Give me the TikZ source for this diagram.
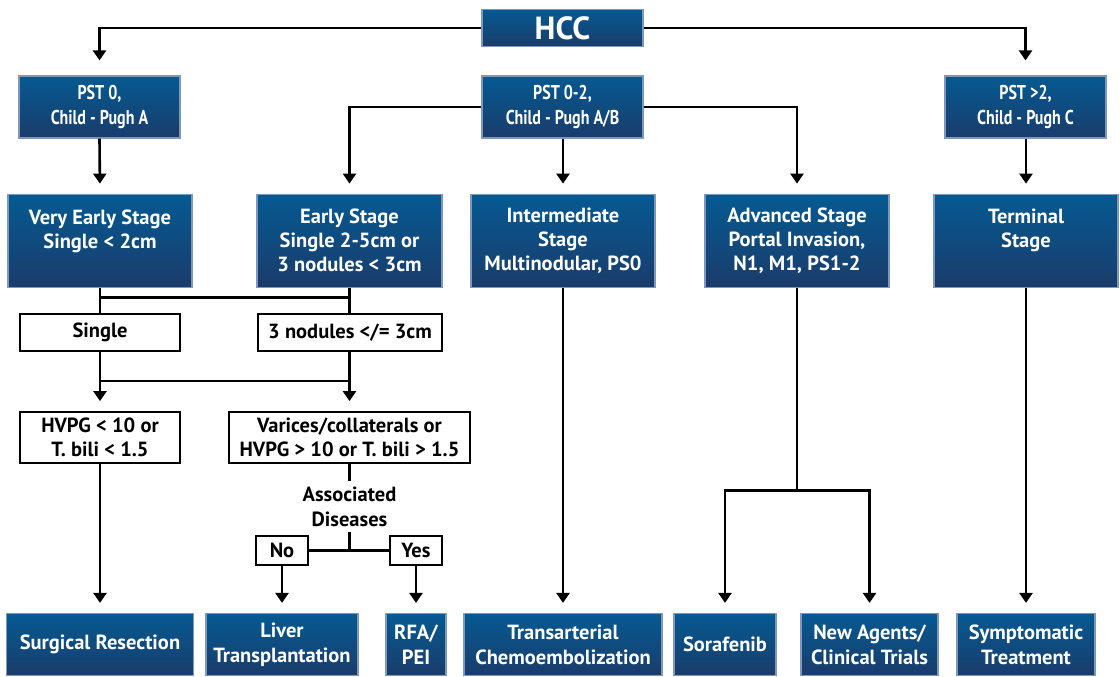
\documentclass[tikz,border=0pt]{standalone}
\usepackage{fontspec}
\setmainfont{PT Sans}
\newfontfamily\condfont[FakeStretch=0.80]{PT Sans}
\usetikzlibrary{arrows.meta}
\definecolor{btop}{HTML}{055A92}
\definecolor{bbot}{HTML}{1A3C6B}
\definecolor{bedge}{HTML}{7D98BC}
\tikzset{
  bluebox/.style={draw=bedge, line width=1.2pt, top color=btop, bottom color=bbot,
    text=white, font=\bfseries\fontsize{20.5}{24}\selectfont, align=center, inner sep=0pt},
  lowbox/.style={bluebox, minimum height=62pt, font=\bfseries\fontsize{20.5}{25}\selectfont},
  pstbox/.style={bluebox, minimum width=161pt, minimum height=62pt, font=\condfont\bfseries\fontsize{20}{25}\selectfont},
  whitebox/.style={draw=black, line width=2.2pt, fill=white, text=black,
    font=\bfseries\fontsize{20.5}{24}\selectfont, align=center, inner sep=0pt},
  conn/.style={draw=black, line width=2.6pt},
  arr/.style={conn, -{Triangle[width=13pt,length=10pt]}, shorten >=10pt},
}
\begin{document}
\begin{tikzpicture}[x=1pt,y=-1pt]
\useasboundingbox (0,0) rectangle (1120,677);
% top
\node[bluebox, minimum width=161pt, minimum height=37pt, font=\bfseries\fontsize{32}{34}\selectfont] (hcc) at (562.5,28) {HCC};
\node[pstbox] (pst0) at (99.5,107) {PST 0,\\Child - Pugh A};
\node[pstbox] (pst02) at (562.5,107) {PST 0-2,\\Child - Pugh A/B};
\node[pstbox] (pst2) at (1025.5,107) {PST >2,\\Child - Pugh C};
% row 2
\node[bluebox, minimum width=184pt, minimum height=93pt] (ves) at (100,240.7) {Very Early Stage\\Single < 2cm\\\mbox{}};
\node[bluebox, minimum width=185pt, minimum height=93pt] (es) at (349.5,240.7) {Early Stage\\Single 2-5cm or\\3 nodules < 3cm};
\node[bluebox, minimum width=184pt, minimum height=93pt] (int) at (563,240.7) {Intermediate\\Stage\\Multinodular, PS0};
\node[bluebox, minimum width=184pt, minimum height=93pt] (adv) at (797,240.7) {Advanced Stage\\Portal Invasion,\\N1, M1, PS1-2};
\node[bluebox, minimum width=184pt, minimum height=93pt] (term) at (1026,240.7) {Terminal\\Stage\\\mbox{}};
% white boxes
\node[whitebox, minimum width=160pt, minimum height=37pt] (single) at (100,332.7) {Single};
\node[whitebox, minimum width=184pt, minimum height=37pt] (nod3) at (350,332.7) {3 nodules </= 3cm};
\node[whitebox, minimum width=160pt, minimum height=51pt] (hvpg) at (100,437.7) {HVPG < 10 or\\T. bili < 1.5};
\node[whitebox, minimum width=241pt, minimum height=51pt] (var) at (349.5,437.7) {Varices/collaterals or\\HVPG > 10 or T. bili > 1.5};
\node[align=center, font=\bfseries\fontsize{20.5}{25}\selectfont, inner sep=0pt, minimum height=50pt] (assoc) at (349.5,506.5) {Associated\\Diseases};
\node[whitebox, minimum width=52pt, minimum height=29pt] (no) at (282,550.3) {No};
\node[whitebox, minimum width=52pt, minimum height=29pt] (yes) at (416,550.3) {Yes};
% bottom row
\node[lowbox, minimum width=187pt] (surg) at (100,644.5) {Surgical Resection};
\node[lowbox, minimum width=152pt] (liver) at (282,644.5) {Liver\\Transplantation};
\node[lowbox, minimum width=60pt] (rfa) at (416,644.5) {RFA/\\PEI};
\node[lowbox, minimum width=198pt] (trans) at (563,644.5) {Transarterial\\Chemoembolization};
\node[lowbox, minimum width=102pt] (sora) at (725,644.5) {Sorafenib};
\node[lowbox, minimum width=137pt] (new) at (869.5,644.5) {New Agents/\\Clinical Trials};
\node[lowbox, minimum width=138pt] (symp) at (1026,644.5) {Symptomatic\\Treatment};
% junction coordinates
\coordinate (j1a) at (100,297.3);
\coordinate (j1b) at (349.5,297.3);
\coordinate (j2a) at (100,381);
\coordinate (j2b) at (349.5,381);
\coordinate (j3) at (349.5,549.3);
\coordinate (j4) at (797,490.7);
\coordinate (j4l) at (725,490.7);
\coordinate (j4r) at (869.5,490.7);
% connectors
\draw[arr, shorten >=15pt] (hcc.west) -| (pst0.north);
\draw[arr, shorten >=15pt] (hcc.east) -| (pst2.north);
\draw[arr] (pst0.south) -- (ves.north);
\draw[arr] (pst02.west) -| (es.north);
\draw[arr] (pst02.south -| int.north) -- (int.north);
\draw[arr] (pst02.east) -| (adv.north);
\draw[arr] (pst2.south -| term.north) -- (term.north);
\draw[conn] (ves.south) -- (single.north);
\draw[conn] (es.south) -- (nod3.north -| es.south);
\draw[conn] (j1a) -- (j1b);
\draw[arr] (single.south) -- (hvpg.north);
\draw[arr] (nod3.south -| var.north) -- (var.north);
\draw[conn] (j2a) -- (j2b);
\draw[arr] (hvpg.south) -- (surg.north);
\draw[conn] (var.south) -- (assoc.north);
\draw[conn] (assoc.south) -- (j3);
\draw[conn] (no.east) -- (yes.west);
\draw[arr] (no.south) -- (liver.north);
\draw[arr] (yes.south) -- (rfa.north);
\draw[arr] (int.south) -- (trans.north);
\draw[conn] (adv.south) -- (j4);
\draw[conn, line cap=rect] (j4l) -- (j4r);
\draw[arr] (j4l) -- (sora.north);
\draw[arr] (j4r) -- (new.north);
\draw[arr] (term.south) -- (symp.north);
\end{tikzpicture}
\end{document}
